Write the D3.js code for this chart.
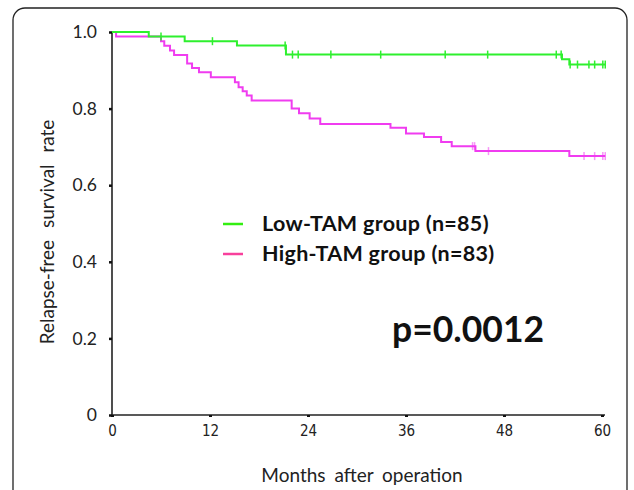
<!DOCTYPE html>
<html>
<head>
<meta charset="utf-8">
<title>Relapse-free survival</title>
<style>
  body { margin: 0; background: #fff; }
</style>
</head>
<body>
<script src="https://cdnjs.cloudflare.com/ajax/libs/d3/7.9.0/d3.min.js"></script>
<script>
// Kaplan-Meier steps: [month of drop, survival after drop]
const lowSteps = [[0, 1.0], [4.5, 0.988], [8.9, 0.976], [15.3, 0.965], [21.3, 0.941],
                  [55.1, 0.929], [56.0, 0.915]];
const lowCensor = [6.0, 12.3, 21.2, 22.1, 22.8, 26.8, 32.9, 40.8, 46.0, 54.4, 55.0,
                   56.1, 57.0, 58.4, 59.1, 60.1, 60.4];
const highSteps = [[0, 1.0], [0.5, 0.988], [6.0, 0.976], [6.4, 0.964], [7.1, 0.952],
                   [7.6, 0.940], [9.2, 0.918], [9.8, 0.906], [10.65, 0.895], [12.1, 0.882],
                   [15.05, 0.869], [15.5, 0.856], [16.0, 0.845], [16.5, 0.834], [17.1, 0.821],
                   [22.0, 0.800], [22.9, 0.788], [24.2, 0.774], [25.5, 0.760], [34.1, 0.750],
                   [36.0, 0.735], [38.2, 0.726], [40.3, 0.713], [41.6, 0.702], [44.5, 0.689],
                   [56.0, 0.676]];
const highCensor = [44.15, 44.4, 46.1, 57.8, 59.1, 60.1, 60.4];
const endMonth = 60.4;
const xTicks = [0, 12, 24, 36, 48, 60];
const yTicks = [0, 0.2, 0.4, 0.6, 0.8, 1.0];
const groups = ["Low-TAM group (n=85)", "High-TAM group (n=83)"];
const pText = "p=0.0012";

const width = 634, height = 490;
const green = "#2ef02e", magenta = "#f03cf0";

const svg = d3.select("body").append("svg")
    .attr("width", width)
    .attr("height", height);

// frame
svg.append("rect")
    .attr("x", 13).attr("y", 8)
    .attr("width", 614).attr("height", 520)
    .attr("rx", 12)
    .attr("fill", "none")
    .attr("stroke", "#222")
    .attr("stroke-width", 1.3);

const x = d3.scaleLinear().domain([0, 60]).range([112, 602]);
const y = d3.scaleLinear().domain([0, 1]).range([415, 32]);

// axes
const yAxis = svg.append("g")
    .attr("transform", "translate(112,0)")
    .call(d3.axisLeft(y).tickValues(yTicks).tickSize(3).tickPadding(12)
        .tickFormat(d => d === 0 ? "0" : d3.format(".1f")(d)));
yAxis.select(".domain").attr("stroke", "#222").attr("stroke-width", 1.6)
    .attr("d", "M0,415V32");
yAxis.selectAll(".tick line").attr("stroke", "#111").attr("stroke-width", 2.5);
yAxis.selectAll("text")
    .attr("font-family", "Lato, 'Noto Sans', sans-serif")
    .attr("font-size", 17.5)
    .attr("fill", "#222");

const xAxis = svg.append("g")
    .attr("transform", "translate(0,415)")
    .call(d3.axisBottom(x).tickValues(xTicks).tickSize(2).tickPadding(8));
xAxis.select(".domain").attr("stroke", "#222").attr("stroke-width", 1.6)
    .attr("d", "M112,0H605");
xAxis.selectAll(".tick line").attr("stroke", "#111").attr("stroke-width", 3);
xAxis.selectAll("text")
    .attr("font-family", "'Liberation Sans Narrow', 'DejaVu Sans Condensed', sans-serif")
    .attr("font-size", 15)
    .attr("fill", "#222");

// axis titles
svg.append("text")
    .attr("transform", "translate(54,232) rotate(-90)")
    .attr("text-anchor", "middle")
    .attr("font-family", "Lato, 'Noto Sans', sans-serif")
    .attr("font-size", 19)
    .attr("word-spacing", 7)
    .attr("fill", "#222")
    .text("Relapse-free survival rate");

svg.append("text")
    .attr("x", 362).attr("y", 482)
    .attr("text-anchor", "middle")
    .attr("font-family", "Lato, 'Noto Sans', sans-serif")
    .attr("font-size", 19)
    .attr("word-spacing", 4)
    .attr("fill", "#222")
    .text("Months after operation");

// survival curves
const curve = d3.line().x(d => x(d[0])).y(d => y(d[1])).curve(d3.curveStepAfter);

function drawGroup(steps, censor, color, tickOpacity) {
    const pts = steps.concat([[endMonth, steps[steps.length - 1][1]]]);
    svg.append("path")
        .attr("d", curve(pts))
        .attr("fill", "none")
        .attr("stroke", color)
        .attr("stroke-width", 2);
    const survAt = t => {
        let s = 1;
        steps.forEach(d => { if (d[0] <= t) s = d[1]; });
        return s;
    };
    svg.append("g").selectAll("line")
        .data(censor)
        .join("line")
        .attr("x1", d => x(d)).attr("x2", d => x(d))
        .attr("y1", d => y(survAt(d)) - 4)
        .attr("y2", d => y(survAt(d)) + 4)
        .attr("stroke", color)
        .attr("stroke-opacity", tickOpacity)
        .attr("stroke-width", 1.5);
}
drawGroup(highSteps, highCensor, magenta, 0.55);
drawGroup(lowSteps, lowCensor, green, 1);

// legend
const legendColors = ["#33ee11", "#f8409c"];
const legend = svg.append("g");
groups.forEach((g, i) => {
    const ly = 224 + i * 30;
    legend.append("line")
        .attr("x1", 223).attr("x2", 243)
        .attr("y1", ly).attr("y2", ly)
        .attr("stroke", legendColors[i])
        .attr("stroke-width", 2.5);
    legend.append("text")
        .attr("x", 262).attr("y", ly + 7)
        .attr("font-family", "Lato, 'Noto Sans', sans-serif")
        .attr("font-weight", 700)
        .attr("font-size", 21.5)
        .attr("letter-spacing", 0.3)
        .attr("fill", "#111")
        .text(g);
});

svg.append("text")
    .attr("x", 392).attr("y", 342)
    .attr("font-family", "Lato, 'Noto Sans', sans-serif")
    .attr("font-weight", 700)
    .attr("font-size", 35.5)
    .attr("fill", "#111")
    .text(pText);
</script>
</body>
</html>
